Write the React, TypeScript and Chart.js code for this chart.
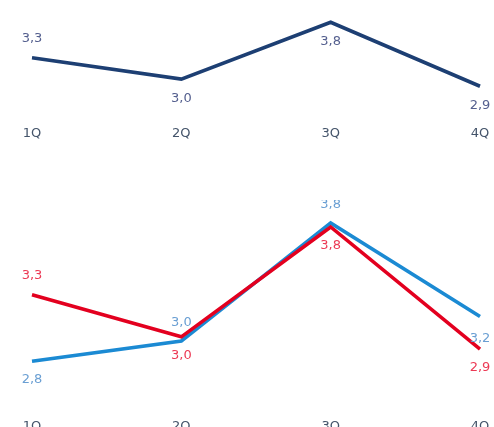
import React, { useEffect, useRef } from "react";
import { Chart, registerables } from "chart.js";

Chart.register(...registerables);

// ---- data ----
const quarters = ["1Q", "2Q", "3Q", "4Q"];

const topValues = [3.3, 3.0, 3.8, 2.9];
const topLabels = ["3,3", "3,0", "3,8", "2,9"];

const redValues = [3.3, 2.99, 3.8, 2.9];
const redLabels = ["3,3", "3,0", "3,8", "2,9"];

const blueValues = [2.81, 2.96, 3.83, 3.14];
const blueLabels = ["2,8", "3,0", "3,8", "3,2"];

// label placement: -1 above the point, 1 below
const topSides = [-1, 1, 1, 1];
const redSides = [-1, 1, 1, 1];
const blueSides = [1, -1, -1, 1.25];

const FONT = "'DejaVu Sans', sans-serif";
const FONT_SIZE = 13;

const valueLabelPlugin = {
  id: "valueLabels",
  afterDatasetsDraw(chart: any, _args: any, opts: any) {
    const sets = opts && opts.sets;
    if (!sets) return;
    const ctx = chart.ctx;
    chart.data.datasets.forEach((_ds: any, i: number) => {
      const cfg = sets[i];
      if (!cfg) return;
      const meta = chart.getDatasetMeta(i);
      meta.data.forEach((pt: any, j: number) => {
        ctx.save();
        ctx.font = `${FONT_SIZE}px ${FONT}`;
        ctx.fillStyle = cfg.color;
        ctx.textAlign = "center";
        ctx.textBaseline = "middle";
        ctx.fillText(cfg.texts[j], pt.x, pt.y + cfg.sides[j] * cfg.offset);
        ctx.restore();
      });
    });
  },
};

function baseOptions(min: number, max: number, padTop: number, gap: number, sets: any[]) {
  return {
    responsive: false,
    animation: false as const,
    layout: { padding: { left: 32, right: 14, top: padTop, bottom: 0 } },
    plugins: {
      legend: { display: false },
      tooltip: { enabled: false },
      valueLabels: { sets },
    },
    scales: {
      x: {
        offset: false,
        grid: { display: false, drawTicks: true, tickLength: gap },
        border: { display: false },
        ticks: {
          padding: 3,
          color: "#44546a",
          font: { family: FONT, size: FONT_SIZE },
          maxRotation: 0,
          autoSkip: false,
        },
      },
      y: { display: false, min, max },
    },
  };
}

export default function App() {
  const topRef = useRef<HTMLCanvasElement>(null);
  const botRef = useRef<HTMLCanvasElement>(null);

  useEffect(() => {
    const top = new Chart(topRef.current as HTMLCanvasElement, {
      type: "line",
      data: {
        labels: quarters,
        datasets: [
          {
            data: topValues,
            borderColor: "#1d3f73",
            borderWidth: 3.6,
            pointRadius: 0,
            tension: 0,
            borderJoinStyle: "miter",
            fill: false,
          },
        ],
      },
      options: baseOptions(2.5, 4.0, 8, 7.7, [
        { texts: topLabels, sides: topSides, color: "#55608f", offset: 19 },
      ]) as any,
      plugins: [valueLabelPlugin],
    });

    const bot = new Chart(botRef.current as HTMLCanvasElement, {
      type: "line",
      data: {
        labels: quarters,
        datasets: [
          {
            data: redValues,
            borderColor: "#e3001f",
            borderWidth: 3.6,
            pointRadius: 0,
            tension: 0,
            borderJoinStyle: "miter",
            fill: false,
          },
          {
            data: blueValues,
            borderColor: "#1b8ad3",
            borderWidth: 3.6,
            pointRadius: 0,
            tension: 0,
            borderJoinStyle: "miter",
            fill: false,
          },
        ],
      },
      options: baseOptions(2.7, 3.9, 13.4, 39.2, [
        { texts: redLabels, sides: redSides, color: "#ec3a55", offset: 19 },
        { texts: blueLabels, sides: blueSides, color: "#6a9fd3", offset: 18 },
      ]) as any,
      plugins: [valueLabelPlugin],
    });

    return () => {
      top.destroy();
      bot.destroy();
    };
  }, []);

  return (
    <div
      style={{
        position: "fixed",
        left: 0,
        top: 0,
        width: 494,
        height: 427,
        overflow: "hidden",
        background: "#ffffff",
      }}
    >
      <canvas ref={topRef} width={494} height={144} style={{ position: "absolute", left: 0, top: 0 }} />
      <canvas ref={botRef} width={494} height={237} style={{ position: "absolute", left: 0, top: 200 }} />
    </div>
  );
}
